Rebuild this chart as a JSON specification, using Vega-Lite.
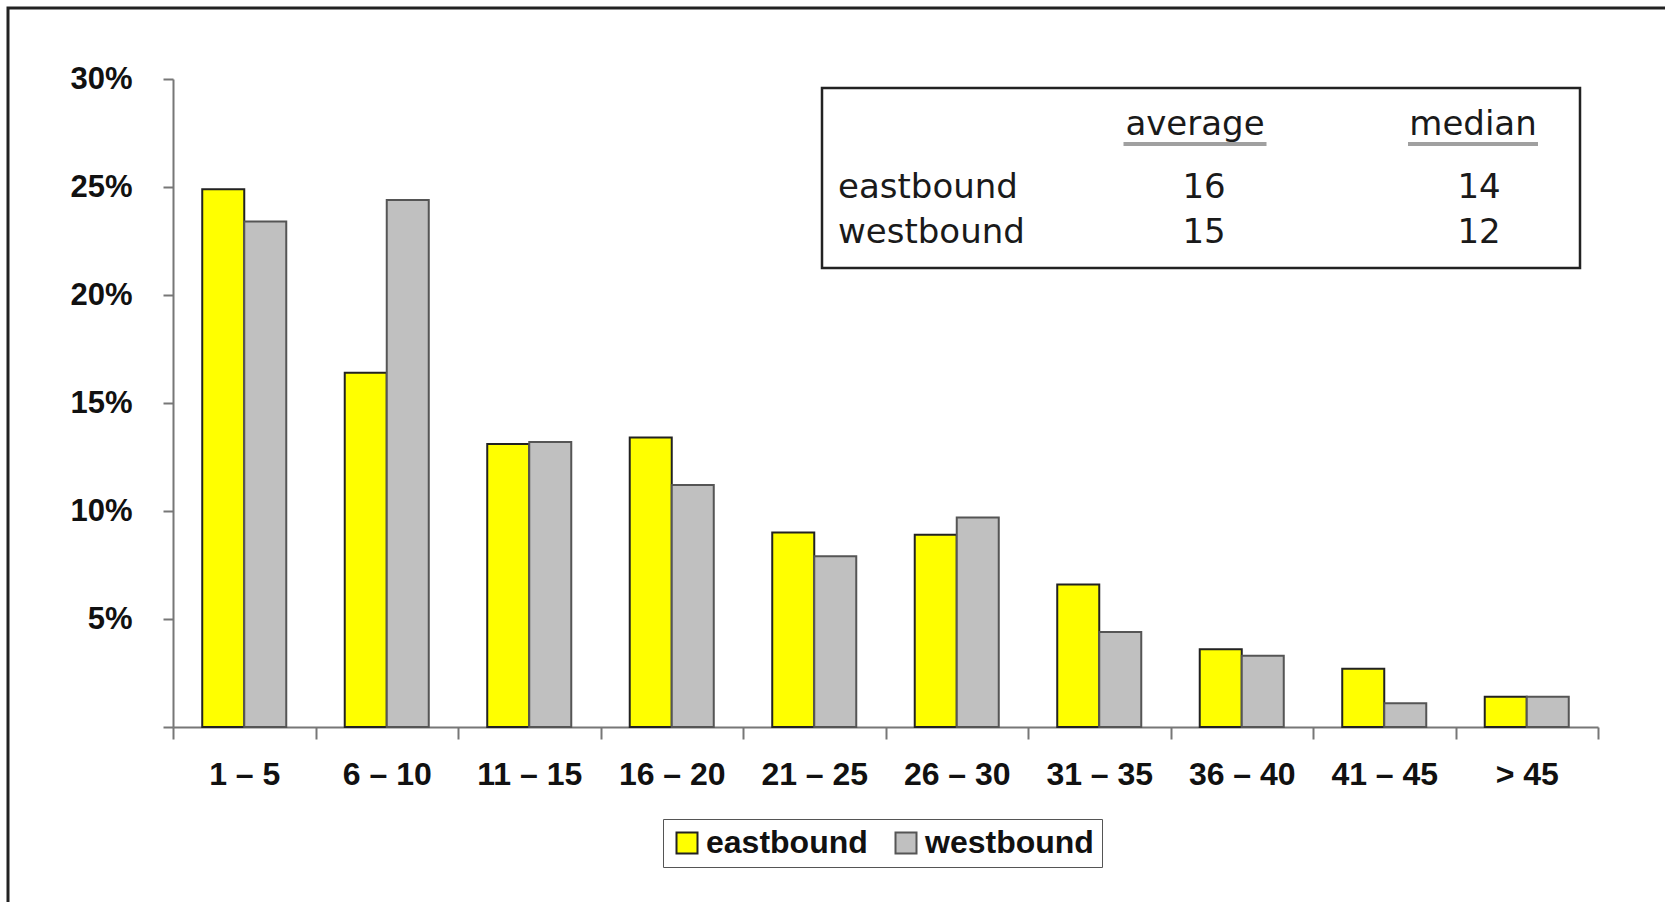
{
  "$schema": "https://vega.github.io/schema/vega-lite/v6.json",
  "width": 1425,
  "height": 648,
  "autosize": {"type": "none"},
  "padding": {"left": 173, "top": 79, "right": 67, "bottom": 175},
  "background": "white",
  "config": {"view": {"stroke": null}, "font": "Liberation Sans"},
  "datasets": {
    "bins": [
      {"range": "1 – 5", "direction": "eastbound", "pct": 24.9},
      {"range": "1 – 5", "direction": "westbound", "pct": 23.4},
      {"range": "6 – 10", "direction": "eastbound", "pct": 16.4},
      {"range": "6 – 10", "direction": "westbound", "pct": 24.4},
      {"range": "11 – 15", "direction": "eastbound", "pct": 13.1},
      {"range": "11 – 15", "direction": "westbound", "pct": 13.2},
      {"range": "16 – 20", "direction": "eastbound", "pct": 13.4},
      {"range": "16 – 20", "direction": "westbound", "pct": 11.2},
      {"range": "21 – 25", "direction": "eastbound", "pct": 9.0},
      {"range": "21 – 25", "direction": "westbound", "pct": 7.9},
      {"range": "26 – 30", "direction": "eastbound", "pct": 8.9},
      {"range": "26 – 30", "direction": "westbound", "pct": 9.7},
      {"range": "31 – 35", "direction": "eastbound", "pct": 6.6},
      {"range": "31 – 35", "direction": "westbound", "pct": 4.4},
      {"range": "36 – 40", "direction": "eastbound", "pct": 3.6},
      {"range": "36 – 40", "direction": "westbound", "pct": 3.3},
      {"range": "41 – 45", "direction": "eastbound", "pct": 2.7},
      {"range": "41 – 45", "direction": "westbound", "pct": 1.1},
      {"range": "> 45", "direction": "eastbound", "pct": 1.4},
      {"range": "> 45", "direction": "westbound", "pct": 1.4}
    ],
    "frame": [{"box": "frame"}],
    "tablebox": [{"box": "table"}],
    "header": [
      {"row": "header", "col": "average", "text": "average"},
      {"row": "header", "col": "median", "text": "median"}
    ],
    "rowlabels": [
      {"row": "eastbound", "col": "label", "text": "eastbound"},
      {"row": "westbound", "col": "label", "text": "westbound"}
    ],
    "stats": [
      {"row": "eastbound", "col": "average", "value": "16"},
      {"row": "eastbound", "col": "median", "value": "14"},
      {"row": "westbound", "col": "average", "value": "15"},
      {"row": "westbound", "col": "median", "value": "12"}
    ]
  },
  "resolve": {"scale": {"x": "independent", "y": "independent", "size": "independent"}},
  "layer": [
    {
      "data": {"name": "frame"},
      "mark": {"type": "rect", "fill": "transparent", "stroke": "#222222", "strokeWidth": 3},
      "encoding": {
        "x": {"field": "box", "type": "nominal", "axis": null, "scale": {"domain": ["frame"], "range": [-165, 1500], "paddingInner": 0, "paddingOuter": 0}},
        "y": {"field": "box", "type": "nominal", "axis": null, "scale": {"domain": ["frame"], "range": [-71, 830], "paddingInner": 0, "paddingOuter": 0}}
      }
    },
    {
      "data": {"name": "bins"},
      "mark": {"type": "bar", "strokeWidth": 2},
      "encoding": {
        "x": {
          "field": "range", "type": "nominal", "sort": null,
          "scale": {"paddingInner": 0, "paddingOuter": 0},
          "axis": {
            "title": null, "labelAngle": 0, "labelFont": "Liberation Sans", "labelFontWeight": "bold",
            "labelFontSize": 32, "labelColor": "#111111", "labelPadding": 20,
            "tickSize": 12, "tickWidth": 2, "tickColor": "#777777",
            "domainColor": "#777777", "domainWidth": 2, "tickBand": "extent"
          }
        },
        "xOffset": {"field": "direction", "type": "nominal", "sort": ["eastbound", "westbound"], "scale": {"paddingInner": 0, "paddingOuter": 0.696}},
        "y": {
          "field": "pct", "type": "quantitative",
          "scale": {"domain": [0, 30], "nice": false},
          "axis": {
            "title": null, "values": [0, 5, 10, 15, 20, 25, 30], "grid": false,
            "labelExpr": "datum.value == 0 ? '' : datum.value + '%'",
            "labelFont": "Liberation Sans", "labelFontWeight": "bold", "labelFontSize": 31,
            "labelColor": "#111111", "labelPadding": 31,
            "tickSize": 10, "tickWidth": 2, "tickColor": "#777777",
            "domainColor": "#777777", "domainWidth": 2
          }
        },
        "fill": {
          "field": "direction", "type": "nominal",
          "scale": {"domain": ["eastbound", "westbound"], "range": ["#FFFF00", "#C0C0C0"]},
          "legend": {
            "title": null, "orient": "none", "legendX": 490, "legendY": 740, "direction": "horizontal",
            "symbolType": "square", "symbolSize": 441, "symbolStrokeWidth": 2,
            "labelFont": "Liberation Sans", "labelFontSize": 32, "labelFontWeight": "bold", "labelColor": "#111111",
            "labelLimit": 400, "labelOffset": 3, "columnPadding": 22, "padding": 8, "strokeColor": "#555555", "fillColor": "white"
          }
        },
        "stroke": {
          "field": "direction", "type": "nominal",
          "scale": {"domain": ["eastbound", "westbound"], "range": ["#222222", "#555555"]},
          "legend": {
            "title": null, "orient": "none", "legendX": 490, "legendY": 740, "direction": "horizontal",
            "symbolType": "square", "symbolSize": 441, "symbolStrokeWidth": 2,
            "labelFont": "Liberation Sans", "labelFontSize": 32, "labelFontWeight": "bold", "labelColor": "#111111",
            "labelLimit": 400, "labelOffset": 3, "columnPadding": 22, "padding": 8, "strokeColor": "#555555", "fillColor": "white"
          }
        }
      }
    },
    {
      "data": {"name": "tablebox"},
      "mark": {"type": "rect", "fill": "white", "stroke": "#222222", "strokeWidth": 2.5},
      "encoding": {
        "x": {"field": "box", "type": "nominal", "axis": null, "scale": {"domain": ["table"], "range": [649, 1407], "paddingInner": 0, "paddingOuter": 0}},
        "y": {"field": "box", "type": "nominal", "axis": null, "scale": {"domain": ["table"], "range": [9, 189], "paddingInner": 0, "paddingOuter": 0}}
      }
    },
    {
      "data": {"name": "header"},
      "mark": {"type": "text", "font": "DejaVu Sans", "fontSize": 34, "color": "#1a1a1a", "align": "center", "baseline": "alphabetic"},
      "encoding": {
        "x": {"field": "col", "type": "nominal", "axis": null, "scale": {"type": "point", "domain": ["average", "median"], "range": [1022, 1300], "padding": 0}},
        "y": {"field": "row", "type": "nominal", "axis": null, "scale": {"type": "point", "domain": ["header"], "range": [56, 56], "padding": 0}},
        "text": {"field": "text"}
      }
    },
    {
      "data": {"name": "header"},
      "mark": {"type": "tick", "orient": "horizontal", "thickness": 4, "color": "#777777", "yOffset": 9},
      "encoding": {
        "x": {"field": "col", "type": "nominal", "axis": null, "scale": {"type": "point", "domain": ["average", "median"], "range": [1022, 1300], "padding": 0}},
        "y": {"field": "row", "type": "nominal", "axis": null, "scale": {"type": "point", "domain": ["header"], "range": [56, 56], "padding": 0}},
        "size": {"field": "col", "type": "nominal", "legend": null, "scale": {"type": "point", "domain": ["average", "median"], "range": [143, 130]}}
      }
    },
    {
      "data": {"name": "rowlabels"},
      "mark": {"type": "text", "font": "DejaVu Sans", "fontSize": 34, "color": "#1a1a1a", "align": "left", "baseline": "alphabetic"},
      "encoding": {
        "x": {"field": "col", "type": "nominal", "axis": null, "scale": {"type": "point", "domain": ["label"], "range": [665, 665], "padding": 0}},
        "y": {"field": "row", "type": "nominal", "axis": null, "scale": {"type": "point", "domain": ["eastbound", "westbound"], "range": [119, 164], "padding": 0}},
        "text": {"field": "text"}
      }
    },
    {
      "data": {"name": "stats"},
      "mark": {"type": "text", "font": "DejaVu Sans", "fontSize": 34, "color": "#1a1a1a", "align": "center", "baseline": "alphabetic"},
      "encoding": {
        "x": {"field": "col", "type": "nominal", "axis": null, "scale": {"type": "point", "domain": ["average", "median"], "range": [1031, 1306], "padding": 0}},
        "y": {"field": "row", "type": "nominal", "axis": null, "scale": {"type": "point", "domain": ["eastbound", "westbound"], "range": [119, 164], "padding": 0}},
        "text": {"field": "value"}
      }
    }
  ]
}
